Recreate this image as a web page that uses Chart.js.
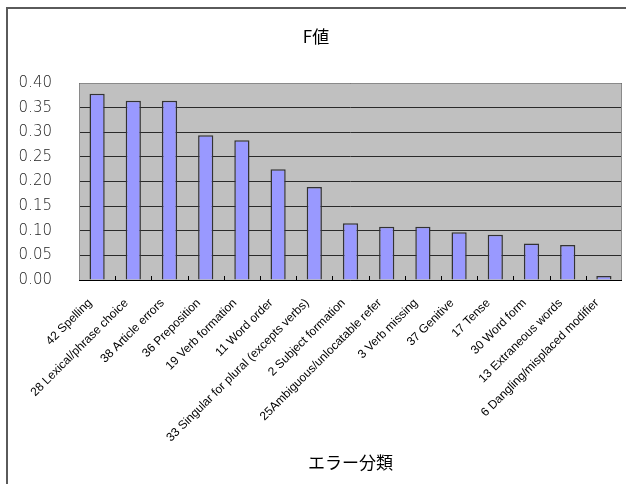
<!DOCTYPE html>
<html lang="ja">
<head>
<meta charset="UTF-8">
<title>F値 - エラー分類</title>
<script src="https://cdn.jsdelivr.net/npm/chart.js"></script>
<style>
  body { margin: 0; background: #fff; overflow: hidden; }
  #wrap { position: absolute; left: 0; top: 0; width: 626px; height: 484px; }
</style>
</head>
<body>
<div id="wrap"><canvas id="fChart" width="626" height="484"></canvas></div>
<script>
// error categories, in order of F value
const categories = [
  '42 Spelling',
  '28 Lexical/phrase choice',
  '38 Article errors',
  '36 Preposition',
  '19 Verb formation',
  '11 Word order',
  '33 Singular for plural (excepts verbs)',
  '2 Subject formation',
  '25Ambiguous/unlocatable refer',
  '3 Verb missing',
  '37 Genitive',
  '17 Tense',
  '30 Word form',
  '13 Extraneous words',
  '6 Dangling/misplaced modifier'
];
const fValues = [0.378, 0.364, 0.364, 0.294, 0.284, 0.225, 0.189, 0.115, 0.108, 0.108, 0.097, 0.092, 0.074, 0.071, 0.008];
const yTickValues = [0, 0.05, 0.10, 0.15, 0.20, 0.25, 0.30, 0.35, 0.40];

// outer frame, grey plot background, plot border and small category ticks on the base line
const plotFrame = {
  id: 'plotFrame',
  beforeDraw(chart) {
    const { ctx, chartArea: a } = chart;
    ctx.save();
    ctx.strokeStyle = '#5a5a5a';
    ctx.lineWidth = 2;
    ctx.strokeRect(7, 8, 700, 600);
    ctx.fillStyle = '#c0c0c0';
    ctx.fillRect(a.left, a.top, a.right - a.left, a.bottom - a.top);
    ctx.restore();
  },
  afterDatasetsDraw(chart) {
    const { ctx, chartArea: a, scales } = chart;
    ctx.save();
    ctx.strokeStyle = '#8a8a8a';
    ctx.lineWidth = 1;
    ctx.beginPath();
    ctx.moveTo(a.left + 0.5, a.bottom);
    ctx.lineTo(a.left + 0.5, a.top + 0.5);
    ctx.lineTo(a.right - 0.5, a.top + 0.5);
    ctx.lineTo(a.right - 0.5, a.bottom);
    ctx.stroke();
    ctx.strokeStyle = '#000';
    ctx.beginPath();
    ctx.moveTo(a.left, a.bottom + 0.5);
    ctx.lineTo(a.right, a.bottom + 0.5);
    for (let i = 1; i < categories.length; i++) {
      const x = Math.round(scales.x.getPixelForValue(i - 0.5)) + 0.5;
      ctx.moveTo(x, a.bottom);
      ctx.lineTo(x, a.bottom - 4);
    }
    ctx.stroke();
    ctx.restore();
  }
};

new Chart(document.getElementById('fChart'), {
  type: 'bar',
  data: {
    labels: categories,
    datasets: [{
      label: 'F値',
      data: fValues,
      backgroundColor: '#9999ff',
      borderColor: '#333333',
      borderWidth: 1.5,
      barPercentage: 0.42,
      categoryPercentage: 1
    }]
  },
  options: {
    responsive: false,
    devicePixelRatio: 1,
    animation: false,
    layout: { padding: { left: 10, right: 4, top: 0, bottom: 0 } },
    plugins: {
      legend: { display: false },
      tooltip: { enabled: false },
      title: {
        display: true,
        text: 'F値',
        color: '#000',
        font: { family: 'Noto Sans CJK JP', size: 17, weight: 'normal' },
        padding: { top: 26, bottom: 36.6 }
      }
    },
    scales: {
      x: {
        grid: { display: false },
        border: { display: false },
        ticks: {
          autoSkip: false,
          maxRotation: 45,
          minRotation: 45,
          padding: 8,
          labelOffset: -7,
          color: '#000',
          font: { family: 'Liberation Sans', size: 12 }
        },
        title: {
          display: true,
          text: 'エラー分類',
          color: '#000',
          font: { family: 'Noto Sans CJK JP', size: 17, weight: 'normal' },
          padding: { top: 0, bottom: 11 }
        },
        afterFit(scale) { scale.height = 204; }
      },
      y: {
        min: 0,
        max: 0.4,
        afterBuildTicks(scale) { scale.ticks = yTickValues.map(v => ({ value: v })); },
        ticks: {
          padding: 27,
          color: '#222',
          font: { family: 'DejaVu Sans', size: 15, weight: 200 },
          callback: v => v.toFixed(2)
        },
        grid: { color: '#2a2a2a', drawTicks: false },
        border: { display: false },
        afterFit(scale) { scale.width = 69; }
      }
    }
  },
  plugins: [plotFrame]
});
</script>
</body>
</html>
